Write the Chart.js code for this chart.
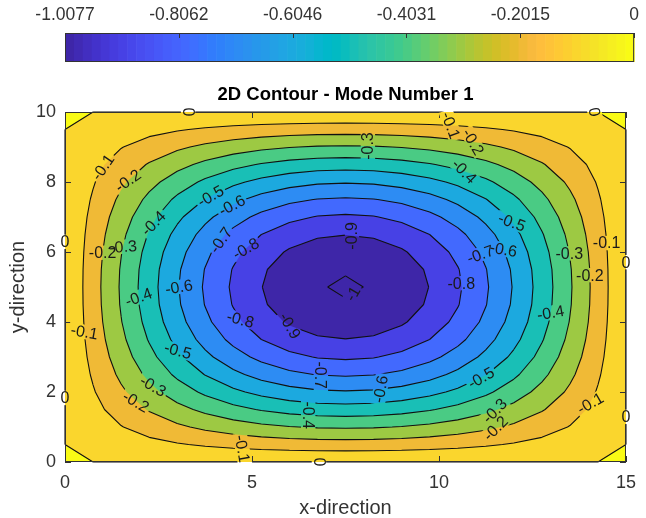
<!DOCTYPE html>
<html>
<head>
<meta charset="utf-8">
<title>2D Contour - Mode Number 1</title>
<script src="https://cdn.jsdelivr.net/npm/chart.js@4.4.1/dist/chart.umd.min.js"></script>
<style>
  html, body { margin: 0; padding: 0; background: #fff; }
  #wrap { position: relative; width: 646px; height: 518px; }
  #wrap canvas { position: absolute; left: 0; top: 0; }
</style>
</head>
<body>
<div id="wrap">
  <canvas id="mainChart" width="646" height="518"></canvas>
  <canvas id="barChart" width="646" height="70"></canvas>
</div>
<script>
// ---- data -------------------------------------------------------------
// grid nodes (21 x 21)
const xNodes = [0, 0.75, 1.5, 2.25, 3, 3.75, 4.5, 5.25, 6, 6.75, 7.5,
                8.25, 9, 9.75, 10.5, 11.25, 12, 12.75, 13.5, 14.25, 15];
const yNodes = [0, 0.5, 1, 1.5, 2, 2.5, 3, 3.5, 4, 4.5, 5,
                5.5, 6, 6.5, 7, 7.5, 8, 8.5, 9, 9.5, 10];
// mode shape read along the middle row / middle column (1 = deepest point)
const xProfile = [0, 0.156, 0.309, 0.454, 0.588, 0.707, 0.809, 0.891, 0.951, 0.988, 1,
                  0.988, 0.951, 0.891, 0.809, 0.707, 0.588, 0.454, 0.309, 0.156, 0];
const yProfile = [0, 0.156, 0.309, 0.454, 0.588, 0.707, 0.809, 0.891, 0.951, 0.988, 1,
                  0.988, 0.951, 0.891, 0.809, 0.707, 0.588, 0.454, 0.309, 0.156, 0];
const peakValue = -1.0077;

const contourLevels = [-1, -0.9, -0.8, -0.7, -0.6, -0.5, -0.4, -0.3, -0.2, -0.1, 0];
const xTicks = [0, 5, 10, 15];
const yTicks = [0, 2, 4, 6, 8, 10];
const cbarTicks = [-1.0077, -0.8062, -0.6046, -0.4031, -0.2015, 0];

// inline labels: level, x, y, text angle (deg)
const contourLabels = [
  [-0.1, 1.24, 8.26, -55], [-0.2, 1.89, 7.86, -35], [-0.5, 4.0, 7.4, -30],
  [-0.6, 4.55, 7.14, -28], [-0.4, 2.55, 6.71, -45], [-0.7, 4.26, 6.26, -55],
  [-0.8, 5.0, 5.97, -30], [-0.2, 1.1, 5.97, 0], [-0.3, 1.71, 6.11, -5],
  [0, 0, 6.29, 0], [-0.4, 1.97, 4.71, -20], [-0.6, 3.1, 5.0, -10],
  [-0.1, 0.39, 3.71, 10], [-0.8, 4.6, 4.0, 15], [-0.5, 2.84, 3.06, 15],
  [-0.3, 2.18, 1.97, 30], [-0.2, 1.71, 1.49, 30], [0, 0, 1.83, 0],
  [-0.1, 4.74, 0.29, 80], [-0.9, 6.0, 3.86, 60], [-0.7, 6.84, 2.43, 90],
  [-0.4, 6.5, 1.29, 90], [-0.6, 8.42, 2.2, -80], [0, 6.79, 0, 90],
  [-0.3, 8.1, 9.14, -90], [-0.9, 7.68, 6.54, -90], [-1, 7.63, 4.91, -60],
  [-0.1, 10.32, 9.77, 70], [-0.2, 10.92, 9.2, 60], [-0.4, 10.71, 8.43, 45],
  [-0.5, 12.1, 6.97, 20], [-0.6, 11.84, 6.14, 10], [-0.7, 11.18, 5.97, -20],
  [-0.3, 13.55, 5.97, 0], [-0.1, 14.55, 6.26, 0], [-0.2, 14.08, 5.34, 0],
  [0, 15, 5.71, 0], [-0.8, 10.6, 5.11, 0], [-0.4, 12.84, 4.29, -10],
  [-0.5, 11.0, 2.63, -30], [-0.3, 11.37, 1.77, -45], [-0.2, 11.45, 1.2, -45],
  [-0.1, 13.82, 1.83, -30], [0, 15, 1.29, 0], [0, 3.29, 10, 90], [0, 14.16, 10, 80]
];

// parula(64)
const parula = [
  [0.2422,0.1504,0.6603],[0.2504,0.1650,0.7076],[0.2578,0.1818,0.7511],[0.2647,0.1978,0.7952],
  [0.2706,0.2147,0.8364],[0.2751,0.2342,0.8710],[0.2783,0.2559,0.8991],[0.2803,0.2782,0.9221],
  [0.2813,0.3006,0.9414],[0.2810,0.3228,0.9579],[0.2795,0.3447,0.9717],[0.2760,0.3667,0.9829],
  [0.2699,0.3892,0.9906],[0.2602,0.4123,0.9952],[0.2440,0.4358,0.9988],[0.2206,0.4603,0.9973],
  [0.1963,0.4847,0.9892],[0.1834,0.5074,0.9798],[0.1786,0.5289,0.9682],[0.1764,0.5499,0.9520],
  [0.1687,0.5703,0.9359],[0.1540,0.5902,0.9218],[0.1460,0.6091,0.9079],[0.1380,0.6276,0.8973],
  [0.1248,0.6459,0.8883],[0.1113,0.6635,0.8763],[0.0952,0.6798,0.8598],[0.0689,0.6948,0.8394],
  [0.0297,0.7082,0.8163],[0.0036,0.7203,0.7917],[0.0067,0.7312,0.7660],[0.0433,0.7411,0.7394],
  [0.0964,0.7500,0.7120],[0.1408,0.7584,0.6842],[0.1717,0.7670,0.6554],[0.1938,0.7758,0.6251],
  [0.2161,0.7843,0.5923],[0.2470,0.7918,0.5567],[0.2906,0.7973,0.5188],[0.3406,0.8008,0.4789],
  [0.3909,0.8029,0.4354],[0.4456,0.8024,0.3909],[0.5044,0.7993,0.3480],[0.5616,0.7942,0.3045],
  [0.6174,0.7876,0.2612],[0.6720,0.7793,0.2227],[0.7242,0.7698,0.1910],[0.7738,0.7598,0.1646],
  [0.8203,0.7498,0.1535],[0.8634,0.7406,0.1596],[0.9035,0.7330,0.1774],[0.9393,0.7288,0.2100],
  [0.9728,0.7298,0.2394],[0.9956,0.7434,0.2371],[0.9970,0.7659,0.2199],[0.9952,0.7893,0.2028],
  [0.9892,0.8136,0.1885],[0.9786,0.8386,0.1766],[0.9676,0.8639,0.1643],[0.9610,0.8890,0.1537],
  [0.9597,0.9135,0.1423],[0.9628,0.9373,0.1265],[0.9691,0.9606,0.1064],[0.9769,0.9839,0.0805]
];

const FONT = '"Liberation Sans", Arial, Helvetica, sans-serif';
const AXIS_COLOR = '#333333';
const TITLE = '2D Contour - Mode Number 1';
Chart.defaults.font.family = FONT;

// values on the grid: zGrid[row j][col i]
const zGrid = yProfile.map(gy => xProfile.map(fx => peakValue * fx * gy));
const cMin = peakValue, cMax = 0;

function rgb(c) {
  return 'rgb(' + c.map(k => Math.round(k * 255)).join(',') + ')';
}
function colorFor(v) {
  let idx = Math.floor((v - cMin) / (cMax - cMin) * parula.length);
  idx = Math.max(0, Math.min(parula.length - 1, idx));
  return rgb(parula[idx]);
}

// keep the part of a polygon where v >= L (edges interpolated linearly)
function clipAbove(poly, L) {
  const out = [];
  for (let k = 0; k < poly.length; k++) {
    const a = poly[k], b = poly[(k + 1) % poly.length];
    const aIn = a.v >= L, bIn = b.v >= L;
    if (aIn) out.push(a);
    if (aIn !== bIn) {
      const t = (L - a.v) / (b.v - a.v);
      out.push({ px: a.px + t * (b.px - a.px), py: a.py + t * (b.py - a.py), v: L });
    }
  }
  return out;
}

function cellCorners(i, j, pxs, pys) {
  return [[i, j], [i + 1, j], [i + 1, j + 1], [i, j + 1]].map(([a, b]) => ({
    px: pxs[a], py: pys[b], v: zGrid[b][a]
  }));
}

// marching squares, straight segments per cell
function levelSegments(L, pxs, pys) {
  const segs = [];
  for (let j = 0; j < yNodes.length - 1; j++) {
    for (let i = 0; i < xNodes.length - 1; i++) {
      const c = cellCorners(i, j, pxs, pys);
      const hits = [];
      for (let e = 0; e < 4; e++) {
        const a = c[e], b = c[(e + 1) % 4];
        if ((a.v >= L) !== (b.v >= L)) {
          const t = (L - a.v) / (b.v - a.v);
          hits.push({ e, px: a.px + t * (b.px - a.px), py: a.py + t * (b.py - a.py) });
        }
      }
      if (hits.length === 2) {
        segs.push([hits[0], hits[1]]);
      } else if (hits.length === 4) {
        const mid = (c[0].v + c[1].v + c[2].v + c[3].v) / 4;
        if ((c[1].v >= L) !== (mid >= L)) {
          segs.push([hits[0], hits[1]], [hits[2], hits[3]]);
        } else {
          segs.push([hits[3], hits[0]], [hits[1], hits[2]]);
        }
      }
    }
  }
  return segs;
}

function valueAtData(xv, yv) {
  const dx = xNodes[1] - xNodes[0], dy = yNodes[1] - yNodes[0];
  xv = Math.max(xNodes[0], Math.min(xNodes[xNodes.length - 1], xv));
  yv = Math.max(yNodes[0], Math.min(yNodes[yNodes.length - 1], yv));
  const i = Math.min(xNodes.length - 2, Math.floor((xv - xNodes[0]) / dx));
  const j = Math.min(yNodes.length - 2, Math.floor((yv - yNodes[0]) / dy));
  const u = (xv - xNodes[i]) / dx, w = (yv - yNodes[j]) / dy;
  return zGrid[j][i] * (1 - u) * (1 - w) + zGrid[j][i + 1] * u * (1 - w) +
         zGrid[j + 1][i] * (1 - u) * w + zGrid[j + 1][i + 1] * u * w;
}

const contourPlugin = {
  id: 'contour',
  beforeDatasetsDraw(chart) {
    const { ctx, chartArea: area, scales: { x, y } } = chart;
    const pxs = xNodes.map(v => x.getPixelForValue(v));
    const pys = yNodes.map(v => y.getPixelForValue(v));
    ctx.save();
    ctx.beginPath();
    ctx.rect(area.left, area.top, area.width, area.height);
    ctx.clip();
    ctx.fillStyle = colorFor(cMin);
    ctx.fillRect(area.left, area.top, area.width, area.height);
    // painter's fill, lowest band first
    contourLevels.forEach(L => {
      ctx.beginPath();
      for (let j = 0; j < yNodes.length - 1; j++) {
        for (let i = 0; i < xNodes.length - 1; i++) {
          const poly = clipAbove(cellCorners(i, j, pxs, pys), L);
          if (poly.length < 3) continue;
          ctx.moveTo(poly[0].px, poly[0].py);
          for (let k = 1; k < poly.length; k++) ctx.lineTo(poly[k].px, poly[k].py);
          ctx.closePath();
        }
      }
      ctx.fillStyle = colorFor(L);
      ctx.fill();
    });
    ctx.restore();
  },
  afterDatasetsDraw(chart) {
    const { ctx, chartArea: area, scales: { x, y } } = chart;
    const pxs = xNodes.map(v => x.getPixelForValue(v));
    const pys = yNodes.map(v => y.getPixelForValue(v));
    const valueAt = (px, py) => valueAtData(x.getValueForPixel(px), y.getValueForPixel(py));

    // lines + frame on a separate layer so labels can cut gaps
    const off = document.createElement('canvas');
    off.width = chart.width; off.height = chart.height;
    const oc = off.getContext('2d');
    oc.save();
    oc.beginPath();
    oc.rect(area.left - 1, area.top - 1, area.width + 2, area.height + 2);
    oc.clip();
    oc.strokeStyle = '#111';
    oc.lineWidth = 1.1;
    oc.lineJoin = 'round';
    contourLevels.forEach(L => {
      oc.beginPath();
      levelSegments(L, pxs, pys).forEach(([p, q]) => {
        oc.moveTo(p.px, p.py);
        oc.lineTo(q.px, q.py);
      });
      oc.stroke();
    });
    oc.restore();

    // axes box and inward ticks
    oc.strokeStyle = AXIS_COLOR;
    oc.lineWidth = 1;
    oc.strokeRect(area.left + 0.5, area.top + 0.5, area.width - 1, area.height - 1);
    oc.beginPath();
    xTicks.forEach(v => {
      const p = Math.round(x.getPixelForValue(v)) + 0.5;
      oc.moveTo(p, area.bottom); oc.lineTo(p, area.bottom - 6);
      oc.moveTo(p, area.top); oc.lineTo(p, area.top + 6);
    });
    yTicks.forEach(v => {
      const p = Math.round(y.getPixelForValue(v)) + 0.5;
      oc.moveTo(area.left, p); oc.lineTo(area.left + 6, p);
      oc.moveTo(area.right, p); oc.lineTo(area.right - 6, p);
    });
    oc.stroke();

    // place labels on their lines
    const fontSize = 16;
    ctx.save();
    ctx.font = fontSize + 'px ' + FONT;
    const placed = contourLabels.map(([L, lx, ly, ang]) => {
      let px = x.getPixelForValue(lx), py = y.getPixelForValue(ly);
      for (let k = 0; k < 10; k++) {
        const v = valueAt(px, py);
        const gx = (valueAt(px + 1, py) - valueAt(px - 1, py)) / 2;
        const gy = (valueAt(px, py + 1) - valueAt(px, py - 1)) / 2;
        const gg = gx * gx + gy * gy;
        if (gg < 1e-14) break;
        let sx = (v - L) * gx / gg, sy = (v - L) * gy / gg;
        const m = Math.hypot(sx, sy);
        if (m > 6) { sx *= 6 / m; sy *= 6 / m; }
        px -= sx; py -= sy;
        if (Math.abs(v - L) < 1e-5) break;
      }
      const text = L === 0 ? '0' : String(L);
      return { px, py, text, a: ang * Math.PI / 180, w: ctx.measureText(text).width };
    });

    oc.globalCompositeOperation = 'destination-out';
    placed.forEach(l => {
      oc.save();
      oc.translate(l.px, l.py);
      oc.rotate(l.a);
      oc.fillRect(-l.w / 2 - 2, -fontSize * 0.45, l.w + 4, fontSize * 0.9);
      oc.restore();
    });
    ctx.drawImage(off, 0, 0);

    ctx.fillStyle = '#1a1a1a';
    ctx.textAlign = 'center';
    ctx.textBaseline = 'middle';
    placed.forEach(l => {
      ctx.save();
      ctx.translate(l.px, l.py);
      ctx.rotate(l.a);
      ctx.fillText(l.text, 0, 1);
      ctx.restore();
    });

    // title, centred over the axes like MATLAB
    ctx.fillStyle = '#000';
    ctx.font = 'bold 18.5px ' + FONT;
    ctx.fillText(TITLE, (area.left + area.right) / 2, 95);
    ctx.restore();
  }
};

const gridPoints = [];
yNodes.forEach(yv => xNodes.forEach(xv => gridPoints.push({ x: xv, y: yv })));

new Chart(document.getElementById('mainChart'), {
  type: 'scatter',
  data: {
    datasets: [{ label: 'grid', data: gridPoints, pointRadius: 0, pointHoverRadius: 0 }]
  },
  options: {
    responsive: false,
    animation: false,
    events: [],
    layout: { padding: { top: 112, right: 11, bottom: 0, left: 0 } },
    plugins: {
      legend: { display: false },
      tooltip: { enabled: false },
      title: { display: false }
    },
    scales: {
      x: {
        type: 'linear', min: 0, max: 15,
        afterBuildTicks: s => { s.ticks = xTicks.map(v => ({ value: v })); },
        afterFit: s => { s.height = 56; },
        grid: { display: false, drawTicks: false },
        border: { display: false },
        ticks: { padding: 10, color: AXIS_COLOR, font: { size: 18 }, maxRotation: 0, autoSkip: false },
        title: { display: true, text: 'x-direction', color: AXIS_COLOR, font: { size: 20 }, padding: { top: 0, bottom: -2 } }
      },
      y: {
        type: 'linear', min: 0, max: 10,
        afterBuildTicks: s => { s.ticks = yTicks.map(v => ({ value: v })); },
        afterFit: s => { s.width = 65; },
        grid: { display: false, drawTicks: false },
        border: { display: false },
        ticks: { padding: 9, color: AXIS_COLOR, font: { size: 18 }, autoSkip: false },
        title: { display: true, text: 'y-direction', color: AXIS_COLOR, font: { size: 20 }, padding: { top: 6, bottom: 0 } }
      }
    }
  },
  plugins: [contourPlugin]
});

// ---- colorbar ----------------------------------------------------------
const colorbarPlugin = {
  id: 'colorbar',
  afterDatasetsDraw(chart) {
    const { ctx, chartArea: area, scales: { x } } = chart;
    const n = parula.length;
    ctx.save();
    for (let k = 0; k < n; k++) {
      const x0 = x.getPixelForValue(cMin + (cMax - cMin) * k / n);
      const x1 = x.getPixelForValue(cMin + (cMax - cMin) * (k + 1) / n);
      ctx.fillStyle = rgb(parula[k]);
      ctx.fillRect(x0, area.top, x1 - x0 + 0.6, area.height);
    }
    ctx.strokeStyle = AXIS_COLOR;
    ctx.lineWidth = 1;
    ctx.strokeRect(area.left + 0.5, area.top + 0.5, area.width - 1, area.height - 1);
    ctx.beginPath();
    cbarTicks.forEach(v => {
      const p = Math.round(x.getPixelForValue(v)) + 0.5;
      ctx.moveTo(p, area.top); ctx.lineTo(p, area.top + 5);
    });
    ctx.stroke();
    ctx.restore();
  }
};

new Chart(document.getElementById('barChart'), {
  type: 'scatter',
  data: { datasets: [{ label: 'colorbar', data: [] }] },
  options: {
    responsive: false,
    animation: false,
    events: [],
    layout: { padding: { top: 0, right: 11, bottom: 8, left: 65 } },
    plugins: { legend: { display: false }, tooltip: { enabled: false } },
    scales: {
      x: {
        type: 'linear', position: 'top', min: cMin, max: cMax,
        afterBuildTicks: s => { s.ticks = cbarTicks.map(v => ({ value: v })); },
        afterFit: s => { s.height = 33; },
        grid: { display: false, drawTicks: false },
        border: { display: false },
        ticks: {
          padding: 7, color: AXIS_COLOR, font: { size: 17.5 }, maxRotation: 0, autoSkip: false,
          callback: v => (v === 0 ? '0' : v.toFixed(4))
        }
      },
      y: { display: false, min: 0, max: 1 }
    }
  },
  plugins: [colorbarPlugin]
});
</script>
</body>
</html>
